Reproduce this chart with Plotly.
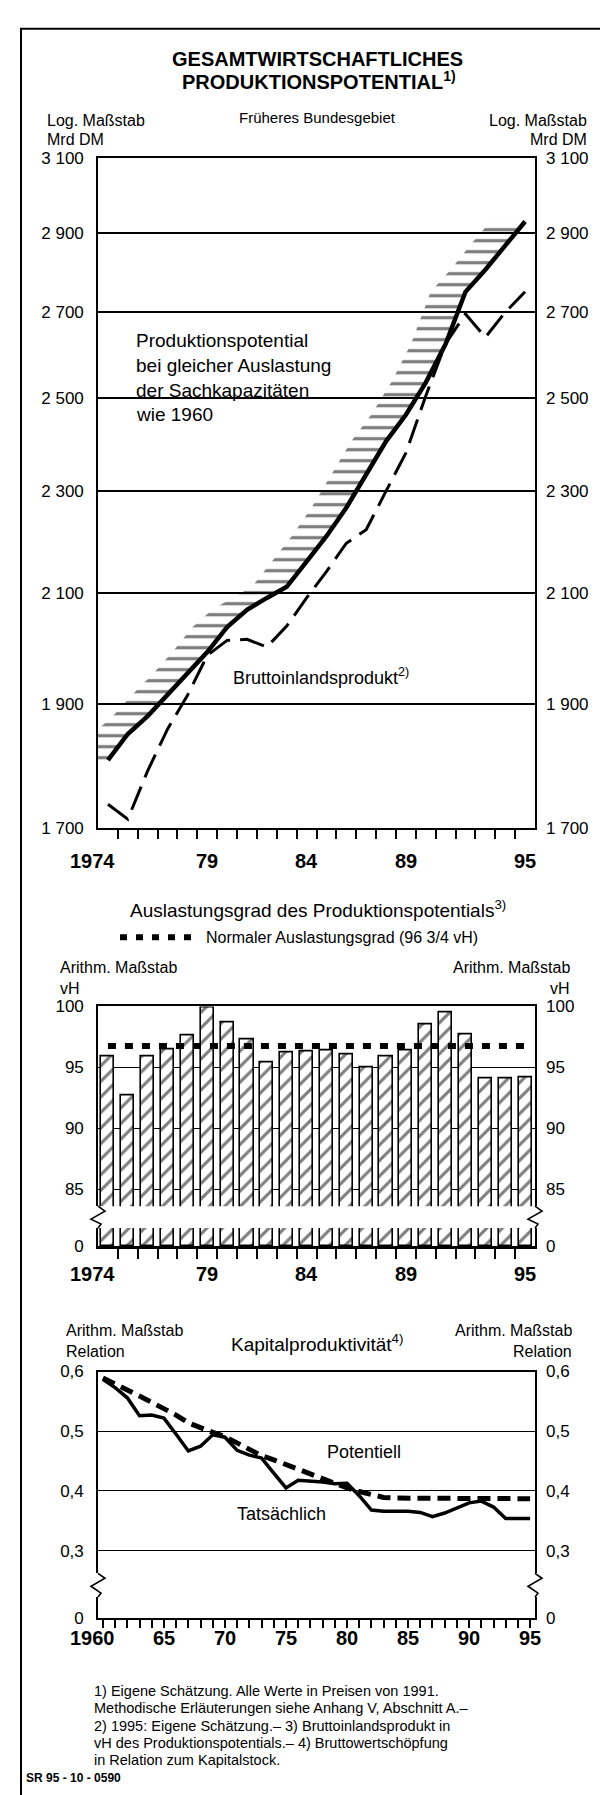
import math
import plotly.graph_objects as go

W, H = 608, 1795
FONT = "Liberation Sans, Arial, Helvetica, sans-serif"

# ---------------- data ----------------
years_top = list(range(1974, 1996))
potential = [1807, 1850, 1880, 1917, 1952, 1991, 2036, 2068, 2090, 2111, 2159,
             2209, 2266, 2334, 2405, 2463, 2535, 2624, 2750, 2805, 2868, 2929]
bip = [1737, 1714, 1790, 1858, 1915, 1985, 2012, 2014, 2000, 2038, 2090,
       2140, 2195, 2222, 2300, 2380, 2505, 2625, 2696, 2640, 2700, 2750]
top_ticks = [1700, 1900, 2100, 2300, 2500, 2700, 2900, 3100]
top_ticktext = ["1 700", "1 900", "2 100", "2 300", "2 500", "2 700", "2 900", "3 100"]
top_xlabels = {1974: "1974", 1979: "79", 1984: "84", 1989: "89", 1995: "95"}

auslastung = [95.9, 92.7, 95.9, 96.5, 97.6, 99.9, 98.7, 97.3, 95.4, 96.2, 96.3,
              96.4, 96.1, 95.0, 95.9, 96.4, 98.5, 99.5, 97.7, 94.1, 94.1, 94.2]
normal_level = 96.75
bar_ticks = [85, 90, 95, 100]

years_kap = list(range(1960, 1996))
kap_tats = [0.587, 0.573, 0.556, 0.526, 0.527, 0.522, 0.495, 0.467, 0.475, 0.494,
            0.490, 0.468, 0.460, 0.455, 0.430, 0.405, 0.418, 0.417, 0.415, 0.412,
            0.413, 0.392, 0.368, 0.366, 0.366, 0.366, 0.364, 0.357, 0.363, 0.372,
            0.380, 0.383, 0.373, 0.354, 0.354, 0.354]
kap_pot = [0.589, 0.580, 0.569, 0.559, 0.549, 0.539, 0.527, 0.514, 0.505, 0.498,
           0.491, 0.480, 0.469, 0.459, 0.452, 0.444, 0.437, 0.430, 0.421, 0.413,
           0.405, 0.399, 0.393, 0.389, 0.388, 0.388, 0.388, 0.387, 0.387, 0.387,
           0.388, 0.388, 0.388, 0.387, 0.387, 0.387]
kap_ticks = [0.3, 0.4, 0.5, 0.6]
kap_ticktext = ["0,3", "0,4", "0,5", "0,6"]
kap_xlabels = {1960: "1960", 1965: "65", 1970: "70", 1975: "75", 1980: "80",
               1985: "85", 1990: "90", 1995: "95"}

footnotes = [
    "1) Eigene Schätzung. Alle Werte in Preisen von 1991.",
    "Methodische Erläuterungen siehe Anhang V, Abschnitt A.–",
    "2) 1995: Eigene Schätzung.– 3) Bruttoinlandsprodukt in",
    "vH des Produktionspotentials.– 4) Bruttowertschöpfung",
    "in Relation zum Kapitalstock.",
]

# ---------------- helpers ----------------
def fx(px):
    return px / W

def fy(py):
    return 1 - py / H

def dom(top, bottom):
    return [1 - bottom / H, 1 - top / H]

XD = [fx(90), fx(527)]
HATCH_SHIFT = 1.75
TOP_RANGE = [1973.5, 1995.5]
KAP_RANGE = [1959.6, 1995.4]

fig = go.Figure()

# ---------------- top chart ----------------
hatch_x = years_top + [y - HATCH_SHIFT for y in years_top[::-1]]
hatch_y = potential + potential[::-1]
fig.add_trace(go.Scatter(x=hatch_x, y=hatch_y, xaxis="x", yaxis="y", mode="lines",
                         line=dict(width=0, color="rgba(0,0,0,0)"), fill="toself",
                         fillcolor="rgba(0,0,0,0)",
                         fillpattern=dict(shape="-", size=11, solidity=0.3,
                                          fgcolor="black", bgcolor="rgba(0,0,0,0)"),
                         hoverinfo="skip"))
fig.add_trace(go.Scatter(x=years_top, y=bip, xaxis="x", yaxis="y", mode="lines",
                         line=dict(color="black", width=3, dash="25px,10px")))
fig.add_trace(go.Scatter(x=years_top, y=potential, xaxis="x", yaxis="y", mode="lines",
                         line=dict(color="black", width=4.5)))
fig.add_trace(go.Scatter(x=years_top, y=potential, xaxis="x", yaxis="y2", mode="lines",
                         line=dict(width=0), opacity=0, hoverinfo="skip"))

# ---------------- bar chart ----------------
bar_marker = dict(color="white", line=dict(color="black", width=1.6),
                  pattern=dict(shape="/", size=11, solidity=0.28,
                               fgcolor="black", bgcolor="white"))
fig.add_trace(go.Bar(x=years_top, y=auslastung, xaxis="x2", yaxis="y3", width=0.66,
                     marker=bar_marker))
fig.add_trace(go.Scatter(x=[years_top[0], years_top[-1]], y=[normal_level] * 2,
                         xaxis="x2", yaxis="y3", mode="lines",
                         line=dict(color="black", width=6, dash="8px,9px")))
fig.add_trace(go.Scatter(x=years_top, y=auslastung, xaxis="x2", yaxis="y4", mode="lines",
                         line=dict(width=0), opacity=0, hoverinfo="skip"))
fig.add_trace(go.Bar(x=years_top, y=auslastung, xaxis="x3", yaxis="y5", width=0.66,
                     marker=bar_marker))
fig.add_trace(go.Scatter(x=years_top, y=auslastung, xaxis="x3", yaxis="y6", mode="lines",
                         line=dict(width=0), opacity=0, hoverinfo="skip"))

# ---------------- Kapitalproduktivitaet ----------------
fig.add_trace(go.Scatter(x=years_kap, y=kap_pot, xaxis="x4", yaxis="y7", mode="lines",
                         line=dict(color="black", width=5, dash="13px,7px")))
fig.add_trace(go.Scatter(x=years_kap, y=kap_tats, xaxis="x4", yaxis="y7", mode="lines",
                         line=dict(color="black", width=3.5)))
fig.add_trace(go.Scatter(x=years_kap, y=kap_tats, xaxis="x4", yaxis="y8", mode="lines",
                         line=dict(width=0), opacity=0, hoverinfo="skip"))
fig.add_trace(go.Scatter(x=years_kap, y=kap_tats, xaxis="x5", yaxis="y9", mode="lines",
                         line=dict(width=0), opacity=0, hoverinfo="skip"))
fig.add_trace(go.Scatter(x=years_kap, y=kap_tats, xaxis="x5", yaxis="y10", mode="lines",
                         line=dict(width=0), opacity=0, hoverinfo="skip"))

# ---------------- axes ----------------
tickfont = dict(family=FONT, size=17, color="black")
half_years = [y + 0.5 for y in years_top[:-1]]

def yleft(**kw):
    d = dict(showgrid=False, zeroline=False, showline=True, linewidth=1.6,
             linecolor="black", mirror=True, ticks="", ticklabelstandoff=9,
             tickfont=tickfont, fixedrange=True)
    d.update(kw)
    return d

def yright(over, anchor, **kw):
    d = dict(overlaying=over, side="right", anchor=anchor, showgrid=False,
             zeroline=False, showline=False, ticks="", ticklabelstandoff=10,
             tickfont=tickfont)
    d.update(kw)
    return d

def xax(**kw):
    d = dict(domain=XD, showgrid=False, zeroline=False, linecolor="black",
             tickcolor="black", showticklabels=False)
    d.update(kw)
    return d

log_range = [math.log10(top_ticks[0]), math.log10(top_ticks[-1])]

fig.update_layout(
    xaxis=xax(range=TOP_RANGE, anchor="y", showline=True, linewidth=1.6, mirror=True,
              ticks="outside", tickvals=half_years, ticklen=9, tickwidth=1.5),
    yaxis=yleft(domain=dom(142.7, 820), anchor="x", type="log", range=log_range,
                tickvals=top_ticks, ticktext=top_ticktext, showgrid=True,
                gridcolor="black", gridwidth=1.6),
    yaxis2=yright("y", "x", type="log", range=log_range, tickvals=top_ticks,
                  ticktext=top_ticktext),

    xaxis2=xax(range=TOP_RANGE, anchor="y3", side="top", showline=True, linewidth=1.6,
               ticks=""),
    yaxis3=yleft(domain=dom(1000, 1202), anchor="x2", range=[83.62, 100],
                 tickvals=bar_ticks, showgrid=True, gridcolor="black", gridwidth=1.3),
    yaxis4=yright("y3", "x2", range=[83.62, 100], tickvals=bar_ticks),

    xaxis3=xax(range=TOP_RANGE, anchor="y5", showline=True, linewidth=2.5,
               ticks="outside", tickvals=half_years, ticklen=10, tickwidth=1.5),
    yaxis5=yleft(domain=dom(1224, 1242.3), anchor="x3", range=[0, 1.48],
                 tickvals=[0], ticktext=["0"]),
    yaxis6=yright("y5", "x3", range=[0, 1.48], tickvals=[0], ticktext=["0"]),

    xaxis4=xax(range=KAP_RANGE, anchor="y7", side="top", showline=True, linewidth=1.6,
               ticks=""),
    yaxis7=yleft(domain=dom(1369, 1573), anchor="x4", range=[0.262, 0.6],
                 tickvals=kap_ticks, ticktext=kap_ticktext, showgrid=True,
                 gridcolor="black", gridwidth=1.3),
    yaxis8=yright("y7", "x4", range=[0.262, 0.6], tickvals=kap_ticks,
                  ticktext=kap_ticktext),

    xaxis5=xax(range=KAP_RANGE, anchor="y9", showline=True, linewidth=1.6,
               ticks="outside", tickvals=years_kap, ticklen=8, tickwidth=1.5),
    yaxis9=yleft(domain=dom(1597, 1618.3), anchor="x5", range=[0, 0.0353],
                 tickvals=[0], ticktext=["0"]),
    yaxis10=yright("y9", "x5", range=[0, 0.0353], tickvals=[0], ticktext=["0"]),

    width=W, height=H, autosize=False,
    margin=dict(l=0, r=0, t=0, b=0),
    paper_bgcolor="white", plot_bgcolor="white",
    showlegend=False, bargap=0,
    font=dict(family=FONT, color="black"),
)

# ---------------- text ----------------
def txt(s, x, y, size=16, anchor="left", xref="paper", xshift=0):
    fig.add_annotation(text=s, x=(fx(x) if xref == "paper" else x), y=fy(y),
                       xref=xref, yref="paper", xanchor=anchor, yanchor="middle",
                       showarrow=False, xshift=xshift,
                       font=dict(family=FONT, size=size, color="black"))

txt("<b>GESAMTWIRTSCHAFTLICHES</b>", 309, 42, 20, "center")
txt("<b>PRODUKTIONSPOTENTIAL<sup>1)</sup></b>", 311, 64, 20, "center")
txt("Früheres Bundesgebiet", 309, 102, 15, "center")
txt("Log. Maßstab", 37, 105, 16)
txt("Mrd DM", 37, 124, 16)
txt("Log. Maßstab", 581, 105, 16, "right")
txt("Mrd DM", 581, 124, 16, "right")

for i, line in enumerate(["Produktionspotential", "bei gleicher Auslastung",
                          "der Sachkapazitäten", "wie 1960"]):
    txt(line, 126, 327 + 25 * i, 19)
txt("Bruttoinlandsprodukt<sup>2)</sup>", 223, 667, 18)

for yr, lab in top_xlabels.items():
    txt("<b>%s</b>" % lab, yr, 853, 20, "center", xref="x",
        xshift=(-15 if yr == years_top[0] else 0))

txt("Auslastungsgrad des Produktionspotentials<sup>3)</sup>", 310, 902, 19, "center")
txt("Normaler Auslastungsgrad (96 3/4 vH)", 196, 930, 16)
txt("Arithm. Maßstab", 50, 961, 16)
txt("vH", 50, 982, 16)
txt("Arithm. Maßstab", 564, 961, 16, "right")
txt("vH", 564, 982, 16, "right")
for yr, lab in top_xlabels.items():
    txt("<b>%s</b>" % lab, yr, 1270, 20, "center", xref="x3",
        xshift=(-15 if yr == years_top[0] else 0))

txt("Arithm. Maßstab", 56, 1328, 16)
txt("Relation", 56, 1349, 16)
txt("Arithm. Maßstab", 566, 1328, 16, "right")
txt("Relation", 566, 1349, 16, "right")
txt("Kapitalproduktivität<sup>4)</sup>", 309, 1340, 19, "center")
txt("Potentiell", 356, 1450, 18, "center")
txt("Tatsächlich", 273, 1513, 18, "center")
for yr, lab in kap_xlabels.items():
    txt("<b>%s</b>" % lab, yr, 1638, 20, "center", xref="x5",
        xshift=(-10 if yr == years_kap[0] else 0))

for i, line in enumerate(footnotes):
    txt(line, 84, 1692 + 17.5 * i, 14.5)
txt("<b>SR 95 - 10 - 0590</b>", 16, 1780, 12)

# ---------------- shapes ----------------
shapes = []
shapes.append(dict(type="rect", xref="paper", yref="paper", x0=fx(13), x1=fx(603),
                   y0=fy(12), y1=fy(1810), line=dict(color="black", width=2)))
shapes.append(dict(type="line", xref="paper", yref="paper", x0=fx(112), x1=fx(184),
                   y0=fy(930), y1=fy(930),
                   line=dict(color="black", width=6, dash="7px,9px")))

def zig(ax, top, bot):
    pts = [(ax, top), (ax + 7, top + 5), (ax - 7, top + 13), (ax + 3, bot - 4), (ax, bot)]
    path = "M " + " L ".join("%.4f,%.4f" % (fx(px), fy(py)) for px, py in pts)
    return dict(type="path", xref="paper", yref="paper", path=path,
                line=dict(color="black", width=1.6))

for ax in (90, 527):
    shapes.append(zig(ax, 1202, 1224))
    shapes.append(zig(ax, 1573, 1597))

fig.update_layout(shapes=shapes)

fig.write_html("out.html")
